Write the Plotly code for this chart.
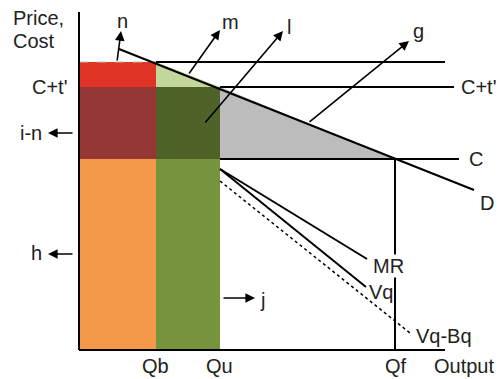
import plotly.graph_objects as go

# quantities (x, output units) and price levels (y)
Q_b, Q_u, Q_f, Q_end = 77, 141, 316, 366
P_top_axis = 338
P_n = 288      # upper price line
P_ct = 263     # C+t'
P_c = 191      # C

demand_x = [40, 395]
demand_y = [301, 160]
mr_x = [141, 288]
mr_y = [181, 91]
vq_x = [141, 287]
vq_y = [181, 63]
vqbq_x = [141, 331]
vqbq_y = [169, 17]

ct_line_end = 375
c_line_end = 380

colors = {
    "red": "#E03426", "lightgreen": "#C3D69B", "darkred": "#953735",
    "darkgreen": "#4F6228", "gray": "#BCBCBC", "orange": "#F4984A",
    "green": "#77933C",
}

fig = go.Figure()


def poly(xs, ys, color):
    fig.add_trace(go.Scatter(x=xs + [xs[0]], y=ys + [ys[0]], mode="lines",
                             fill="toself", fillcolor=color,
                             line=dict(width=0), hoverinfo="skip"))


def line(xs, ys, width=2, dash="solid", color="black"):
    fig.add_trace(go.Scatter(x=xs, y=ys, mode="lines",
                             line=dict(color=color, width=width, dash=dash),
                             hoverinfo="skip"))


# areas
poly([0, Q_b, Q_b, 0], [P_n, P_n, P_ct, P_ct], colors["red"])
poly([Q_b, Q_u, Q_b], [P_n, P_ct, P_ct], colors["lightgreen"])
poly([0, Q_b, Q_b, 0], [P_ct, P_ct, P_c, P_c], colors["darkred"])
poly([Q_b, Q_u, Q_u, Q_b], [P_ct, P_ct, P_c, P_c], colors["darkgreen"])
poly([Q_u, Q_f, Q_u], [P_ct, P_c, P_c], colors["gray"])
poly([0, Q_b, Q_b, 0], [P_c, P_c, 0, 0], colors["orange"])
poly([Q_b, Q_u, Q_u, Q_b], [P_c, P_c, 0, 0], colors["green"])

# lines
line([0, Q_b], [P_n, P_n], width=1, dash="dash", color="#BBBBBB")
line([Q_b, Q_end], [P_n, P_n])
line([Q_u, ct_line_end], [P_ct, P_ct])
line([Q_u, c_line_end], [P_c, P_c])
line(demand_x, demand_y)
line([Q_f, Q_f], [P_c, 0])
line(mr_x, mr_y)
line(vq_x, vq_y)
line(vqbq_x, vqbq_y, width=1.5, dash="dot")
line([0, 0], [P_top_axis, 0])
line([0, Q_end], [0, 0])

# text labels: (text, x, y, xanchor, bg)
labels = [
    ("Price,", -67, 332, "left", None),
    ("Cost", -67, 309, "left", None),
    ("C+t'", -29, 263, "center", None),
    ("i-n", -48, 217, "center", None),
    ("h", -43, 97, "center", None),
    ("Qb", 76, -16, "center", None),
    ("Qu", 140, -16, "center", None),
    ("Qf", 317, -16, "center", None),
    ("Output", 385, -16, "center", None),
    ("C+t'", 400, 263, "center", None),
    ("C", 397, 191, "center", None),
    ("D", 408, 147, "center", None),
    ("MR", 309, 84, "center", "white"),
    ("Vq", 302, 58, "center", None),
    ("Vq-Bq", 365, 14, "center", None),
    ("j", 183, 50, "center", None),
    ("n", 43, 329, "center", None),
    ("m", 151, 328, "center", None),
    ("l", 210, 323, "center", None),
    ("g", 339, 319, "center", None),
]
for txt, x, y, xa, bg in labels:
    fig.add_annotation(x=x, y=y, text=txt, showarrow=False, xanchor=xa,
                       yanchor="middle", align="left",
                       bgcolor=bg if bg else "rgba(0,0,0,0)",
                       borderpad=0,
                       font=dict(family="Liberation Sans", size=20, color="#222222"))

# arrows: tail (x0, y0) -> head (x1, y1)
arrows = [
    (38, 288, 42, 319),
    (109, 275, 141, 320),
    (125, 226, 204, 319),
    (229, 227, 330, 309),
    (-5, 217, -31, 217),
    (-5, 96, -31, 96),
    (143, 52, 176, 52),
]
for x0, y0, x1, y1 in arrows:
    fig.add_annotation(x=x1, y=y1, ax=x0, ay=y0, xref="x", yref="y",
                       axref="x", ayref="y", text="", showarrow=True,
                       arrowhead=2, arrowsize=1.2, arrowwidth=1.6,
                       arrowcolor="black")

# the page body adds an 8px margin, so the figure is 8px smaller
fig.update_layout(
    width=496, height=371, showlegend=False,
    margin=dict(l=0, r=0, t=0, b=0),
    plot_bgcolor="white", paper_bgcolor="white",
    xaxis=dict(range=[-71, 425], visible=False, fixedrange=True),
    yaxis=dict(range=[-29, 342], visible=False, fixedrange=True),
)

fig.write_html("out.html")
